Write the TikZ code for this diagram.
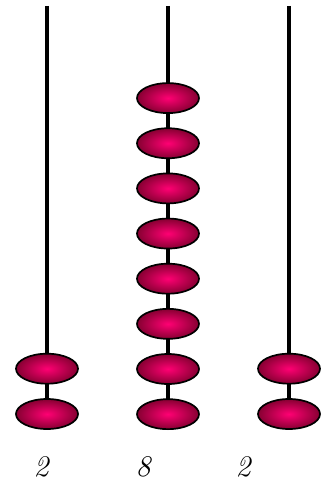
\documentclass[tikz,border=0pt]{standalone}
\usepackage{tikz}
\usetikzlibrary{shapes.geometric}
\definecolor{beadmid}{RGB}{255,0,115}
\definecolor{beadrim}{RGB}{135,0,50}

\begin{document}
\begin{tikzpicture}[
  x=1pt, y=-1pt,
  bead/.style={ellipse, draw, line width=1.7pt, minimum width=62pt,
               minimum height=30pt, inner sep=0pt,
               inner color=beadmid, outer color=beadrim},
  rod/.style={line width=4pt},
  digit/.style={font=\fontsize{30}{36}\selectfont\itshape}
]
  \useasboundingbox (0,0) rectangle (324,481);
  % Rods
  \coordinate (topA) at (47,6);   \coordinate (baseA) at (47,414);
  \coordinate (topB) at (168,6);  \coordinate (baseB) at (168,414);
  \coordinate (topC) at (289,6);  \coordinate (baseC) at (289,414);
  \draw[rod] (topA) -- (baseA);
  \draw[rod] (topB) -- (baseB);
  \draw[rod] (topC) -- (baseC);
  % Beads
  \foreach \i in {1,2} {
    \node[bead] (beadA\i) at (47,459.3-45.3*\i) {};
    \node[bead] (beadC\i) at (289,459.3-45.3*\i) {};
  }
  \foreach \i in {1,...,8}
    \node[bead] (beadB\i) at (168,459.3-45.15*\i) {};
  % Counts
  \node[digit] (cntA) at (41,467) {2};
  \node[digit] (cntB) at (143,467) {8};
  \node[digit] (cntC) at (243,467) {2};
\end{tikzpicture}
\end{document}
